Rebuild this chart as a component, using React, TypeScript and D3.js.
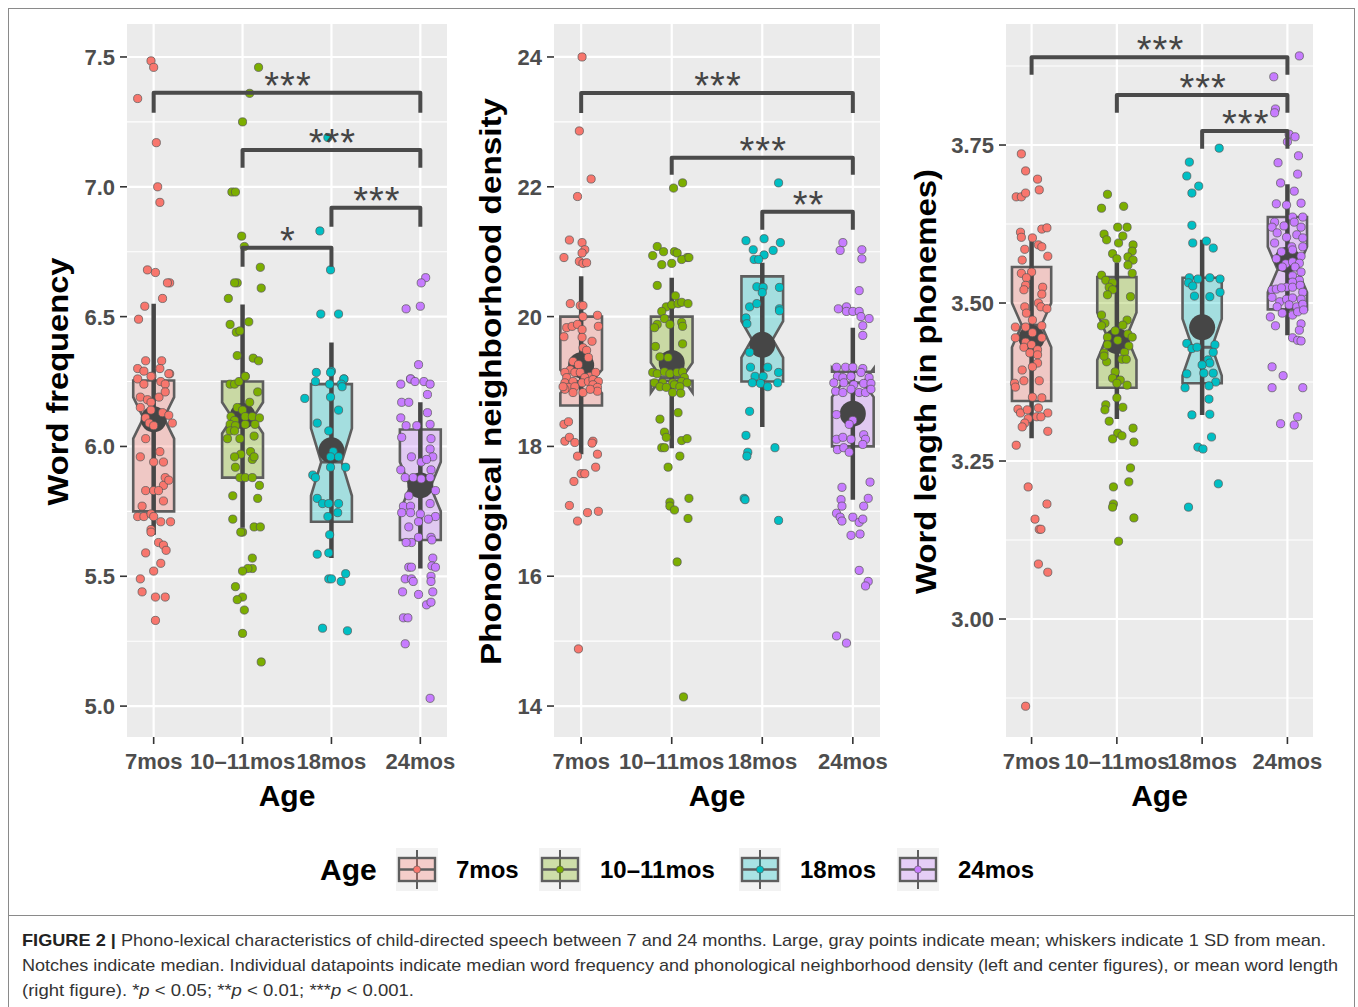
import React from 'react';
import * as d3 from 'd3';

const ages = ['7mos', '10–11mos', '18mos', '24mos'];
const colors = ['#F8766D', '#7CAE00', '#00BFC4', '#C77CFF'];

// ---------- Panel 1: Word frequency ----------
const wfDomain = [4.881, 7.627];
const wfTicks = [5.0, 5.5, 6.0, 6.5, 7.0, 7.5];
const wfMinor = [5.25, 5.75, 6.25, 6.75, 7.25];
const wfMean = [6.105, 6.117, 5.985, 5.85];
const wfSD = [0.445, 0.43, 0.415, 0.32];
const wfQ1 = [5.75, 5.88, 5.71, 5.64];
const wfQ3 = [6.254, 6.25, 6.24, 6.065];
const wfMedian = [6.11, 6.11, 5.94, 5.845];
const wfNotchLo = [6.03, 6.05, 5.81, 5.75];
const wfNotchHi = [6.19, 6.17, 6.07, 5.94];
const wfSig = [
  { from: 0, to: 3, top: 7.362, leg: 7.285, label: '***' },
  { from: 1, to: 3, top: 7.142, leg: 7.073, label: '***' },
  { from: 2, to: 3, top: 6.919, leg: 6.846, label: '***' },
  { from: 1, to: 2, top: 6.765, leg: 6.692, label: '*' },
];
const wf7 = [[7.34,-.18],[7.485,-.03],[7.46,0],[7.17,.03],[7.0,.045],[6.94,.07],[6.68,-.07],[6.67,.02],[6.63,.18],[6.63,.155],[6.57,.10],[6.54,-.10],[6.49,-.17],[6.33,-.09],[6.33,.09],[6.30,-.18],[6.29,-.11],[6.30,.07],[6.27,-.02],[6.28,.18],
[6.26,-.18],[6.24,-.11],[6.25,.08],[6.24,.13],[6.27,-.03],[6.28,.17],[6.19,-.15],[6.18,-.07],[6.17,-.03],[6.19,.06],[6.21,.13],[6.15,-.15],
[6.14,-.03],[6.13,.10],[6.12,.17],[6.11,-.09],[6.09,-.05],[6.08,0],[6.09,.21],[6.03,-.09],[5.98,.07],[5.96,-.15],[5.94,0],[5.94,.11],[5.88,.13],[5.85,.11],[5.87,.17],
[5.83,-.09],[5.83,0],[5.83,.055],[5.77,-.13],[5.79,.11],[5.73,-.18],[5.73,-.11],[5.74,-.03],[5.73,0],[5.71,.08],[5.71,.19],[5.68,-.03],[5.67,-.03],
[5.63,.055],[5.62,.11],[5.60,.14],[5.59,-.09],[5.55,.08],[5.52,0],[5.49,-.15],[5.44,-.13],[5.42,.02],[5.42,.13],[5.33,.02]];
const wf10 = [[7.46,.18],[7.36,.08],[7.25,0],[6.98,-.12],[6.98,-.08],[6.81,-.01],[6.77,.02],[6.69,.20],[6.63,-.06],[6.63,-.09],[6.61,.21],[6.57,-.16],[6.47,-.14],[6.48,.07],[6.44,-.07],[6.445,-.03],[6.35,-.06],[6.34,.12],[6.33,.18],[6.27,.03],
[6.24,-.14],[6.24,-.09],[6.25,-.04],[6.27,.03],[6.21,.17],[6.17,.08],[6.15,-.06],[6.14,0],[6.115,-.13],[6.10,-.09],[6.115,.03],[6.115,.11],[6.11,.19],[6.085,.14],
[6.085,-.14],[6.08,-.08],[6.085,.03],[6.06,-.14],[6.06,-.09],[6.03,-.17],[6.03,-.03],[6.04,.13],[5.98,.09],[5.97,-.02],[5.96,-.09],[5.95,.11],[5.96,.13],
[5.92,-.08],[5.88,-.03],[5.88,.03],[5.88,.11],[5.85,.19],[5.81,-.11],[5.80,.17],[5.72,-.11],[5.69,.13],[5.69,.20],[5.67,0],[5.67,-.02],
[5.57,.11],[5.53,.11],[5.53,.06],[5.52,0],[5.46,-.08],[5.42,0],[5.41,-.06],[5.37,.02],[5.28,0],[5.17,.21]];
const wf18 = [[7.19,-.04],[6.83,-.13],[6.68,-.01],[6.51,-.12],[6.51,.08],[6.29,0],[6.26,.14],[6.25,-.18],[6.285,-.17],[6.285,-.01],[6.26,.14],[6.24,-.02],[6.24,.11],[6.23,.12],
[6.185,-.30],[6.19,-.01],[6.14,.08],[6.09,-.16],[6.06,-.03],[5.98,.02],[5.96,.08],[5.96,-.01],[5.92,.16],[5.92,-.01],[5.89,-.21],[5.88,-.18],
[5.80,-.16],[5.78,-.10],[5.78,-.03],[5.78,.08],[5.745,.07],[5.73,-.04],[5.66,-.02],[5.585,-.16],[5.59,-.03],[5.49,-.03],[5.49,0],[5.51,.16],[5.48,.11],[5.30,-.10],[5.29,.18]];
const wf24 = [[6.65,.06],[6.63,.01],[6.53,-.16],[6.54,0],[6.315,-.02],[6.26,-.11],[6.24,-.22],[6.26,-.11],[6.25,-.06],[6.25,.04],[6.24,.11],
[6.17,-.21],[6.17,-.13],[6.20,.08],[6.11,-.22],[6.13,.08],[6.08,-.16],[6.08,-.04],[6.085,.11],[6.035,-.21],[6.03,.12],[5.96,-.10],[5.99,.11],[5.96,.14],[5.94,.01],[5.95,.07],
[5.91,-.22],[5.91,.12],[5.88,-.17],[5.88,-.08],[5.875,.01],[5.88,.11],[5.83,.17],[5.81,-.13],[5.77,-.19],[5.77,-.11],[5.78,.11],
[5.745,-.21],[5.745,-.11],[5.74,0],[5.73,.17],[5.69,-.13],[5.71,-.02],[5.72,.09],[5.65,.12],[5.64,.13],[5.65,-.02],[5.63,-.10],[5.63,-.16],
[5.57,.14],[5.54,.13],[5.535,.17],[5.535,-.13],[5.535,-.10],[5.49,-.17],[5.49,-.10],[5.48,-.08],[5.50,.12],[5.48,.12],[5.44,.14],[5.44,-.20],[5.43,-.02],[5.39,.07],[5.40,.12],
[5.34,-.19],[5.34,-.14],[5.24,-.17],[5.03,.11]];

// ---------- Panel 2: Phonological neighborhood density ----------
const pnDomain = [13.523, 24.508];
const pnTicks = [14, 16, 18, 20, 22, 24];
const pnMinor = [15, 17, 19, 21, 23];
const pnMean = [19.25, 19.285, 19.565, 18.505];
const pnSD = [1.37, 1.315, 1.265, 1.325];
const pnQ1 = [18.63, 19.01, 19.0, 18.0];
const pnQ3 = [20.0, 20.0, 20.62, 19.15];
const pnMedian = [19.0, 19.06, 19.65, 18.98];
const pnNotchLo = [18.82, 18.83, 19.37, 18.76];
const pnNotchHi = [19.18, 19.29, 19.93, 19.2];
const pnSig = [
  { from: 0, to: 3, top: 23.446, leg: 23.138, label: '***' },
  { from: 1, to: 3, top: 22.446, leg: 22.185, label: '***' },
  { from: 2, to: 3, top: 21.615, leg: 21.338, label: '**' },
];
const pn7 = [[24.0,.01],[22.86,-.02],[22.12,.11],[21.85,-.04],[21.18,-.13],[21.14,.01],[21.03,.04],[20.98,.01],[20.91,-.19],[20.85,-.02],[20.82,.02],[20.83,.06],
[20.2,-.12],[20.17,-.01],[20.17,.02],[20.0,.02],[20.02,.18],[19.83,-.16],[19.85,-.10],[19.88,-.04],[19.85,.19],[19.8,.01],
[19.69,-.19],[19.68,.01],[19.62,.12],[19.52,.02],[19.48,.06],[19.31,-.09],[19.37,.08],[19.26,-.03],[19.18,-.12],[19.14,-.18],[19.14,-.07],[19.08,.10],[19.14,.16],[19.06,-.16],[19.14,-.01],[19.06,.04],
[18.98,-.18],[19.0,-.09],[18.98,.01],[19.0,.08],[19.03,.13],[19.0,.19],[18.91,-.14],[18.92,-.07],[18.95,.13],[18.91,.18],[18.88,-.18],[18.83,.02],[18.85,.18],[18.83,-.09],[18.88,.10],[18.92,-.20],
[18.34,-.19],[18.38,-.14],[18.08,-.18],[18.14,-.13],[18.06,-.07],[17.85,-.04],[18.08,.13],[18.05,.12],[17.88,.18],[17.68,.16],[17.58,0],[17.58,.04],[17.46,-.08],[17.09,-.13],[16.98,.07],[17.0,.19],[16.85,-.04],[14.88,-.03]];
const pn10 = [[21.98,.02],[22.06,.12],[21.08,-.16],[21.0,-.09],[21.0,.03],[20.98,.06],[20.91,.17],[20.88,.11],[20.91,.19],[20.94,-.21],[20.8,-.11],[20.82,0],[20.48,-.16],
[20.32,.04],[20.15,-.06],[20.18,0],[20.2,.07],[20.22,.11],[20.2,.18],[20.08,-.11],[19.97,-.08],[19.88,-.16],[19.83,-.19],[19.88,-.02],[19.91,.11],[19.85,.12],
[19.54,-.18],[19.58,.12],[19.38,-.13],[19.37,-.04],[19.14,-.21],[19.12,-.16],[19.15,-.08],[19.12,-.02],[19.14,.06],[19.15,.12],[19.06,.14],[18.98,-.19],[18.98,-.10],[18.98,.01],[19.0,.11],[18.98,.17],[18.92,-.13],[18.91,-.06],[18.95,.03],[18.92,.09],[18.83,.01],[18.82,.10],
[18.52,.07],[18.42,-.13],[18.22,-.08],[18.14,-.06],[18.09,.11],[18.12,.17],[17.98,-.11],[17.98,-.08],[17.85,.09],[17.68,-.04],
[17.2,.19],[17.14,-.02],[17.08,-.02],[17.02,.03],[16.89,.18],[16.22,.06],[14.14,.13]];
const pn18 = [[22.06,.18],[21.17,-.18],[21.2,.02],[21.14,.20],[21.03,-.10],[21.02,.12],[20.95,.02],[20.88,-.09],[20.88,-.04],
[20.46,-.06],[20.45,.01],[20.45,.19],[20.37,0],[20.15,-.14],[20.2,-.06],[20.12,.19],[20.09,.19],[19.98,-.18],[19.89,-.17],[19.45,-.14],
[19.22,-.13],[19.22,.06],[19.08,-.08],[19.08,.01],[19.14,.18],[18.98,-.11],[18.97,-.02],[18.92,.06],[18.98,.17],
[18.54,-.14],[18.17,-.18],[17.91,-.16],[17.85,-.17],[17.98,.14],[17.2,-.20],[17.18,-.19],[16.86,.18]];
const pn24 = [[21.14,-.11],[21.02,-.14],[21.03,.10],[20.89,.10],[20.4,.07],[20.12,-.16],[20.15,-.07],[20.08,-.07],[20.08,0],[20.08,.07],[20.0,.09],[19.97,.18],[19.86,.11],[19.71,.11],
[19.22,-.18],[19.22,-.08],[19.22,0],[19.2,.11],[19.08,-.17],[19.06,-.11],[19.08,-.02],[19.14,.09],[19.06,.18],[18.98,-.21],[18.98,-.10],[18.95,.01],[18.97,.12],[18.97,.20],[18.85,-.19],[18.83,-.11],[18.88,-.02],[18.83,.07],[18.83,.14],[18.88,.20],
[18.49,-.18],[18.4,0],[18.34,-.04],[18.11,-.18],[18.14,-.11],[18.11,-.02],[18.18,.12],[18.11,.14],[17.95,-.17],[17.98,-.10],[17.91,-.04],[18.03,.11],
[17.37,-.12],[17.45,.19],[17.18,-.13],[17.2,.17],[17.08,-.12],[17.08,.12],[16.97,-.18],[16.91,-.14],[16.91,0],[16.85,-.12],[16.83,.07],[16.88,.11],[16.63,-.02],[16.65,.08],[16.09,.07],[15.92,.17],[15.85,.14],[15.08,-.18],[14.97,-.07]];

// ---------- Panel 3: Word length ----------
const wlDomain = [2.8133, 3.9415];
const wlTicks = [3.0, 3.25, 3.5, 3.75];
const wlMinor = [2.875, 3.125, 3.375, 3.625, 3.875];
const wlMean = [3.4445, 3.44, 3.4615, 3.5685];
const wlSD = [0.1585, 0.1235, 0.1385, 0.1195];
const wlQ1 = [3.345, 3.366, 3.373, 3.49];
const wlQ3 = [3.557, 3.541, 3.54, 3.636];
const wlMedian = [3.465, 3.447, 3.43, 3.553];
const wlNotchLo = [3.43, 3.41, 3.385, 3.517];
const wlNotchHi = [3.50, 3.485, 3.475, 3.589];
const wlSig = [
  { from: 0, to: 3, top: 3.889, leg: 3.861, label: '***' },
  { from: 1, to: 3, top: 3.829, leg: 3.801, label: '***' },
  { from: 2, to: 3, top: 3.772, leg: 3.744, label: '***' },
];
const wl7 = [[3.736,-.12],[3.709,-.07],[3.696,.07],[3.679,.09],[3.668,-.18],[3.668,-.12],[3.674,-.07],[3.612,-.13],[3.604,-.12],[3.603,.01],[3.617,.12],[3.619,.18],[3.592,.08],[3.589,.12],
[3.585,-.08],[3.568,-.11],[3.574,.19],[3.549,0],[3.547,-.12],[3.54,-.06],[3.528,-.07],[3.521,-.09],[3.525,.13],[3.514,.12],[3.494,-.08],[3.5,.08],[3.494,.11],[3.491,.18],[3.484,-.06],[3.473,.01],
[3.462,-.19],[3.462,-.07],[3.464,.12],[3.453,.01],[3.445,-.19],[3.438,-.07],[3.445,.12],[3.43,-.09],[3.434,0],[3.426,.07],[3.421,-.02],
[3.418,.07],[3.405,.07],[3.394,-.11],[3.399,.01],[3.373,-.20],[3.377,-.09],[3.377,.09],[3.351,.01],[3.367,-.19],
[3.35,.12],[3.332,-.16],[3.326,-.13],[3.331,-.05],[3.334,.08],[3.326,.19],[3.317,-.04],[3.32,.06],[3.32,.11],[3.31,-.08],[3.304,-.11],[3.297,.19],[3.275,-.18],
[3.209,-.04],[3.182,.18],[3.158,.04],[3.142,.09],[3.142,.11],[3.087,.08],[3.074,.19],[2.862,-.07]];
const wl10 = [[3.672,-.11],[3.65,-.18],[3.653,.08],[3.609,-.15],[3.6,-.12],[3.62,.01],[3.62,.12],[3.595,.02],[3.606,.07],[3.592,.19],[3.582,.18],
[3.578,-.05],[3.57,0],[3.573,.13],[3.568,.19],[3.56,.13],[3.544,-.18],[3.536,-.13],[3.532,-.05],[3.525,-.09],[3.521,-.05],[3.547,.18],[3.51,.16],[3.513,-.11],
[3.481,-.18],[3.468,-.14],[3.473,.12],[3.465,.07],[3.456,-.02],[3.451,.13],[3.464,-.18],[3.446,-.11],[3.446,.18],[3.441,.01],
[3.434,-.11],[3.432,.14],[3.422,.09],[3.421,-.15],[3.407,-.12],[3.411,.06],[3.411,.11],[3.416,-.15],
[3.391,-.02],[3.381,-.05],[3.378,.04],[3.373,0],[3.37,.12],[3.35,0],[3.339,-.13],[3.331,-.14],[3.335,.07],[3.313,-.09],
[3.302,.19],[3.294,.01],[3.29,.06],[3.285,-.05],[3.28,.20],[3.239,.16],[3.209,-.04],[3.217,.14],[3.182,-.04],[3.177,-.05],[3.16,.20],[3.123,.02]];
const wl18 = [[3.745,.20],[3.723,-.15],[3.701,-.18],[3.685,-.04],[3.674,-.12],[3.623,-.12],[3.595,-.11],[3.598,.05],[3.587,.13],
[3.54,-.15],[3.538,-.05],[3.54,.09],[3.538,.21],[3.532,-.16],[3.527,-.11],[3.51,.09],[3.517,.21],[3.511,-.09],
[3.436,-.18],[3.428,-.12],[3.43,-.06],[3.434,.15],[3.422,.13],[3.41,.07],[3.405,.09],[3.402,0],[3.388,-.18],[3.389,.02],[3.375,.16],[3.366,-.20],[3.369,.08],[3.389,.13],
[3.348,.08],[3.323,-.12],[3.324,.09],[3.288,.11],[3.272,-.05],[3.269,.01],[3.214,.19],[3.177,-.16]];
const wl24 = [[3.891,.14],[3.858,-.16],[3.807,-.14],[3.801,-.15],[3.767,.02],[3.755,0],[3.763,.09],[3.733,.13],[3.722,-.11],[3.704,.12],[3.69,-.08],[3.677,.08],[3.657,-.13],[3.658,.16],[3.655,-.01],
[3.628,-.15],[3.636,.06],[3.636,.18],[3.622,-.04],[3.628,.08],[3.62,.16],[3.62,-.18],
[3.611,-.12],[3.604,-.01],[3.608,.11],[3.603,.18],[3.595,-.15],[3.589,.05],[3.589,.18],[3.581,-.07],[3.584,.06],[3.574,.16],[3.57,-.13],[3.562,-.02],[3.565,.06],[3.563,.14],[3.557,-.06],[3.557,.09],[3.549,.16],
[3.543,.06],[3.536,.14],[3.533,.06],[3.525,-.01],[3.521,-.18],[3.522,-.13],[3.524,-.07],[3.525,.06],[3.528,.15],[3.517,.18],
[3.509,-.18],[3.502,-.09],[3.506,-.01],[3.508,.06],[3.506,.16],[3.494,-.12],[3.497,.02],[3.494,.11],[3.498,.18],[3.484,-.06],[3.481,.06],[3.486,.12],[3.489,.19],
[3.478,-.20],[3.464,-.14],[3.467,.16],[3.457,.14],[3.445,.06],[3.441,.12],[3.44,.16],
[3.399,-.18],[3.385,-.05],[3.366,-.18],[3.366,.18],[3.309,-.08],[3.307,.08],[3.32,.12]];

const captionLines = [
  'Phono-lexical characteristics of child-directed speech between 7 and 24 months. Large, gray points indicate mean; whiskers indicate 1 SD from mean.',
  'Notches indicate median. Individual datapoints indicate median word frequency and phonological neighborhood density (left and center figures), or mean word length',
];

const FONT = "'Liberation Sans', Arial, Helvetica, sans-serif";
const TOP = 24;
const BOTTOM = 737;

function Panel(props: any) {
  const { left, right, domain, ticks, minor, fmt, title, titleX, titleLen, mean, sd, q1, q3, med, nlo, nhi, pts, sig } = props;
  const x = d3.scalePoint<string>().domain(ages).range([left, right]).padding(0.3);
  const y = d3.scaleLinear().domain(domain).range([BOTTOM, TOP]);
  const step = x.step();
  const hw = step * 0.23;
  const ind = hw * 0.5;
  const f = d3.format(fmt);
  const line = d3.line();
  return (
    <g>
      <rect x={left} y={TOP} width={right - left} height={BOTTOM - TOP} fill="#EBEBEB" />
      {minor.map((t: number) => (
        <line key={'mi' + t} x1={left} x2={right} y1={y(t)} y2={y(t)} stroke="#fff" strokeWidth={1.1} />
      ))}
      {ticks.map((t: number) => (
        <line key={'ma' + t} x1={left} x2={right} y1={y(t)} y2={y(t)} stroke="#fff" strokeWidth={2.2} />
      ))}
      {ages.map((a) => (
        <line key={'v' + a} x1={x(a)} x2={x(a)} y1={TOP} y2={BOTTOM} stroke="#fff" strokeWidth={2.2} />
      ))}
      {ages.map((a, i) => {
        const cx = x(a) as number;
        const x0 = cx - hw, x1 = cx + hw;
        const poly: [number, number][] = [
          [x0, y(q3[i])], [x0, y(nhi[i])], [x0 + ind, y(med[i])], [x0, y(nlo[i])], [x0, y(q1[i])],
          [x1, y(q1[i])], [x1, y(nlo[i])], [x1 - ind, y(med[i])], [x1, y(nhi[i])], [x1, y(q3[i])],
        ];
        return (
          <g key={'b' + a}>
            <path d={line(poly) + 'Z'} fill={colors[i]} fillOpacity={0.3} stroke="#5E5E5E" strokeWidth={2.6} strokeLinejoin="miter" />
            <line x1={x0 + ind} x2={x1 - ind} y1={y(med[i])} y2={y(med[i])} stroke="#5E5E5E" strokeWidth={3} />
          </g>
        );
      })}
      {ages.map((a, i) => (
        <line key={'w' + a} x1={x(a)} x2={x(a)} y1={y(mean[i] + sd[i])} y2={y(mean[i] - sd[i])} stroke="#464646" strokeWidth={4.5} />
      ))}
      {ages.map((a, i) => (
        <circle key={'m' + a} cx={x(a)} cy={y(mean[i])} r={13} fill="#464646" />
      ))}
      {ages.map((a, i) =>
        pts[i].map((p: number[], k: number) => (
          <circle key={a + k} cx={(x(a) as number) + p[1] * step} cy={y(p[0])} r={4.1} fill={colors[i]} stroke="#555" strokeWidth={0.7} />
        ))
      )}
      {sig.map((s: any, k: number) => {
        const xa = x(ages[s.from]) as number;
        const xb = x(ages[s.to]) as number;
        const pth = line([[xa, y(s.leg)], [xa, y(s.top)], [xb, y(s.top)], [xb, y(s.leg)]]);
        return (
          <g key={'s' + k}>
            <path d={pth as string} fill="none" stroke="#4A4A4A" strokeWidth={4} strokeLinejoin="round" />
            <text x={(xa + xb) / 2 + 1} y={y(s.top) + 6} textAnchor="middle" fontFamily={FONT} fontSize={38} fill="#444" letterSpacing={1}>
              {s.label}
            </text>
          </g>
        );
      })}
      {ticks.map((t: number) => (
        <g key={'yt' + t}>
          <line x1={left - 7} x2={left} y1={y(t)} y2={y(t)} stroke="#333" strokeWidth={1.6} />
          <text x={left - 12} y={y(t) + 8} textAnchor="end" fontFamily={FONT} fontWeight="bold" fontSize={22} fill="#4D4D4D">{f(t)}</text>
        </g>
      ))}
      {ages.map((a) => (
        <g key={'xt' + a}>
          <line x1={x(a)} x2={x(a)} y1={BOTTOM} y2={BOTTOM + 7} stroke="#333" strokeWidth={1.6} />
          <text x={x(a)} y={BOTTOM + 32} textAnchor="middle" fontFamily={FONT} fontWeight="bold" fontSize={22} fill="#4D4D4D">{a}</text>
        </g>
      ))}
      <text x={(left + right) / 2} y={806} textAnchor="middle" fontFamily={FONT} fontWeight="bold" fontSize={30} fill="#000">Age</text>
      <text transform={`translate(${titleX},${(TOP + BOTTOM) / 2 + 1}) rotate(-90)`} textAnchor="middle" fontFamily={FONT} fontWeight="bold" fontSize={30} fill="#000" textLength={titleLen} lengthAdjust="spacingAndGlyphs">{title}</text>
    </g>
  );
}

export default function App() {
  const legendKeys = [396, 539, 739, 897];
  const legendLabelX = [456, 600, 800, 958];
  return (
    <svg width={1358} height={1007} style={{ position: 'absolute', left: 0, top: 0, background: '#fff' }}>
      <rect x={8.5} y={8.5} width={1346} height={1010} fill="#fff" stroke="#8A8A8A" strokeWidth={1} />
      <line x1={8.5} x2={1354.5} y1={915.5} y2={915.5} stroke="#8A8A8A" strokeWidth={1} />
      <Panel left={127} right={447} domain={wfDomain} ticks={wfTicks} minor={wfMinor} fmt=".1f"
        title="Word frequency" titleX={68} titleLen={248}
        mean={wfMean} sd={wfSD} q1={wfQ1} q3={wfQ3} med={wfMedian} nlo={wfNotchLo} nhi={wfNotchHi}
        pts={[wf7, wf10, wf18, wf24]} sig={wfSig} />
      <Panel left={554} right={880} domain={pnDomain} ticks={pnTicks} minor={pnMinor} fmt="d"
        title="Phonological neighborhood density" titleX={501} titleLen={567}
        mean={pnMean} sd={pnSD} q1={pnQ1} q3={pnQ3} med={pnMedian} nlo={pnNotchLo} nhi={pnNotchHi}
        pts={[pn7, pn10, pn18, pn24]} sig={pnSig} />
      <Panel left={1006} right={1313} domain={wlDomain} ticks={wlTicks} minor={wlMinor} fmt=".2f"
        title="Word length (in phonemes)" titleX={936} titleLen={425}
        mean={wlMean} sd={wlSD} q1={wlQ1} q3={wlQ3} med={wlMedian} nlo={wlNotchLo} nhi={wlNotchHi}
        pts={[wl7, wl10, wl18, wl24]} sig={wlSig} />

      {/* Legend */}
      <text x={320} y={880} fontFamily={FONT} fontWeight="bold" fontSize={30} fill="#000">Age</text>
      {ages.map((a, i) => {
        const kx = legendKeys[i];
        const ky = 848;
        return (
          <g key={'lg' + a}>
            <rect x={kx} y={ky} width={42} height={43} fill="#F2F2F2" />
            <line x1={kx + 21} x2={kx + 21} y1={ky + 2} y2={ky + 41} stroke="#5E5E5E" strokeWidth={2} />
            <rect x={kx + 3} y={ky + 10} width={36} height={23} fill={colors[i]} fillOpacity={0.3} stroke="#5E5E5E" strokeWidth={2.4} />
            <line x1={kx + 3} x2={kx + 39} y1={ky + 21.5} y2={ky + 21.5} stroke="#5E5E5E" strokeWidth={2.4} />
            <circle cx={kx + 21} cy={ky + 21.5} r={3.6} fill={colors[i]} stroke="#555" strokeWidth={0.6} />
            <text x={legendLabelX[i]} y={ky + 30} fontFamily={FONT} fontWeight="bold" fontSize={24} fill="#000">{a}</text>
          </g>
        );
      })}

      {/* Caption */}
      <g fontFamily="'Liberation Sans Narrow', 'Liberation Sans', Arial, sans-serif" fontSize={17} fill="#333">
        <text x={22} y={946} textLength={1304} lengthAdjust="spacingAndGlyphs">
          <tspan fontWeight="bold" fill="#222">FIGURE 2 | </tspan>{captionLines[0]}
        </text>
        <text x={22} y={971} textLength={1316} lengthAdjust="spacingAndGlyphs">{captionLines[1]}</text>
        <text x={22} y={996} textLength={392} lengthAdjust="spacingAndGlyphs">
          (right figure). *<tspan fontStyle="italic">p</tspan> &lt; 0.05; **<tspan fontStyle="italic">p</tspan> &lt; 0.01; ***<tspan fontStyle="italic">p</tspan> &lt; 0.001.
        </text>
      </g>
    </svg>
  );
}
